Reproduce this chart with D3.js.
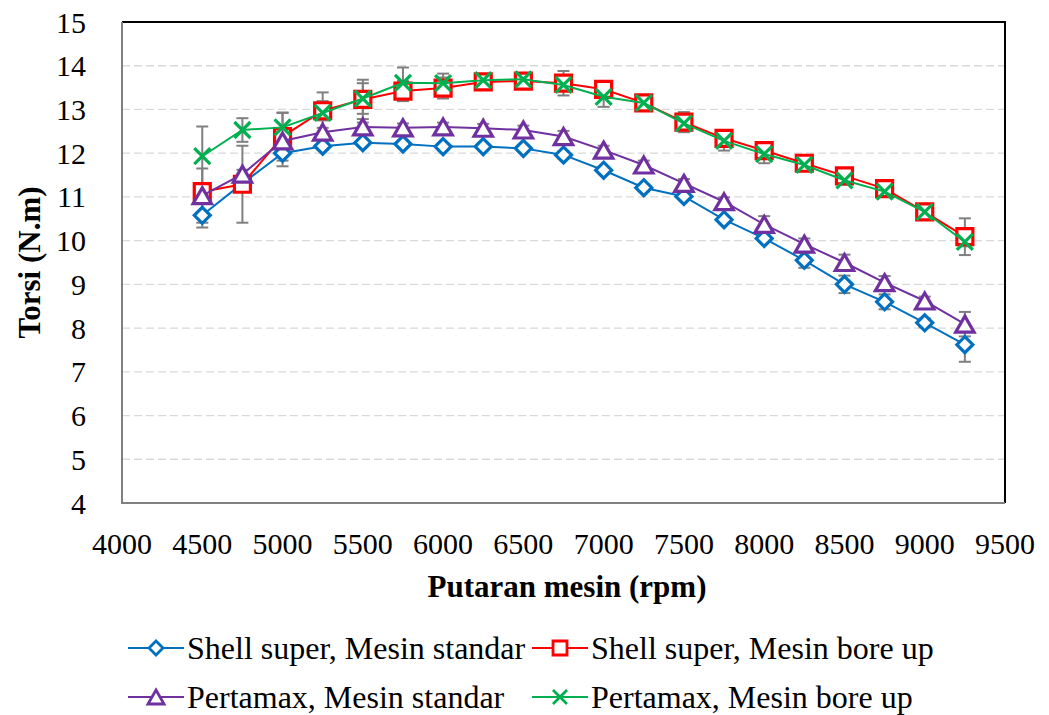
<!DOCTYPE html>
<meta charset="utf-8">
<style>
body { margin: 0; background: #fff; }
.grid line { stroke: #d9d9d9; stroke-width: 1.3px; stroke-dasharray: 8 4; }
.err { stroke: #7f7f7f; stroke-width: 2px; }
</style>
<svg width="1049" height="715"></svg>
<script src="https://d3js.org/d3.v7.min.js"></script>
<script>

const rpm = [4500, 4750, 5000, 5250, 5500, 5750, 6000, 6250, 6500, 6750,
             7000, 7250, 7500, 7750, 8000, 8250, 8500, 8750, 9000, 9250];

const shellStd = [10.58, 11.31, 12.00, 12.16, 12.24, 12.21, 12.15, 12.15, 12.11, 11.96,
                  11.61, 11.21, 11.01, 10.48, 10.05, 9.55, 9.00, 8.60, 8.12, 7.62];
const shellStdErr = [0.28, 0.08, 0.30, 0.08, 0.08, 0.08, 0.08, 0.08, 0.08, 0.08,
                     0.08, 0.08, 0.08, 0.08, 0.08, 0.17, 0.20, 0.17, 0.10, 0.39];

const shellBore = [11.12, 11.29, 12.38, 12.97, 13.23, 13.42, 13.49, 13.63, 13.65, 13.60,
                   13.46, 13.15, 12.71, 12.34, 12.06, 11.77, 11.48, 11.19, 10.66, 10.09];
const shellBoreErr = [0.10, 0.88, 0.55, 0.22, 0.45, 0.23, 0.24, 0.10, 0.10, 0.28,
                      0.10, 0.10, 0.23, 0.10, 0.10, 0.10, 0.10, 0.10, 0.10, 0.42];

const pertStd = [11.03, 11.52, 12.28, 12.48, 12.60, 12.58, 12.60, 12.57, 12.53, 12.38,
                 12.07, 11.73, 11.31, 10.89, 10.37, 9.92, 9.50, 9.04, 8.62, 8.09];
const pertStdErr = [0.62, 0.10, 0.10, 0.10, 0.10, 0.10, 0.10, 0.10, 0.10, 0.13,
                    0.10, 0.10, 0.10, 0.10, 0.19, 0.13, 0.18, 0.15, 0.10, 0.28];

const pertBore = [11.93, 12.53, 12.59, 12.92, 13.25, 13.61, 13.60, 13.67, 13.69, 13.56,
                  13.29, 13.15, 12.68, 12.28, 11.98, 11.73, 11.38, 11.12, 10.66, 9.97];
const pertBoreErr = [0.68, 0.27, 0.33, 0.47, 0.35, 0.35, 0.22, 0.10, 0.10, 0.10,
                     0.23, 0.10, 0.10, 0.22, 0.21, 0.10, 0.10, 0.10, 0.10, 0.10];

const xTicks = [4000, 4500, 5000, 5500, 6000, 6500, 7000, 7500, 8000, 8500, 9000, 9500];
const yTicks = [4, 5, 6, 7, 8, 9, 10, 11, 12, 13, 14, 15];

const series = [
  { name: 'Shell super, Mesin standar', values: shellStd, err: shellStdErr, color: '#0070C0', shape: 'diamond' },
  { name: 'Shell super, Mesin bore up', values: shellBore, err: shellBoreErr, color: '#FF0000', shape: 'square' },
  { name: 'Pertamax, Mesin standar', values: pertStd, err: pertStdErr, color: '#7030A0', shape: 'triangle' },
  { name: 'Pertamax, Mesin bore up', values: pertBore, err: pertBoreErr, color: '#00B050', shape: 'cross' }
];

const FONT = 'Liberation Serif';

const svg = d3.select('svg');
const pLeft = 122, pRight = 1005, pTop = 22, pBottom = 503;

const x = d3.scaleLinear().domain([4000, 9500]).range([pLeft, pRight]);
const y = d3.scaleLinear().domain([4, 15]).range([pBottom, pTop]);

// marker paths, centred on their bounding box
function shapePath(shape, h) {
  if (shape === 'diamond') return `M0,${-h}L${h},0L0,${h}L${-h},0Z`;
  if (shape === 'square') return `M${-h},${-h}H${h}V${h}H${-h}Z`;
  if (shape === 'triangle') return `M0,${-h}L${h * 1.15},${h}L${-h * 1.15},${h}Z`;
  return `M${-h},${-h}L${h},${h}M${-h},${h}L${h},${-h}`;
}

// grid
svg.append('g').attr('class', 'grid')
  .selectAll('line')
  .data(yTicks.filter(d => d > 4 && d < 15))
  .join('line')
    .attr('x1', pLeft).attr('x2', pRight)
    .attr('y1', d => y(d)).attr('y2', d => y(d));

// frame: top/right dark, left/bottom gray axes
svg.append('path')
  .attr('d', `M${pLeft},${pTop}H${pRight}V${pBottom}`)
  .attr('fill', 'none').attr('stroke', '#000').attr('stroke-width', 2);
svg.append('path')
  .attr('d', `M${pLeft},${pTop}V${pBottom}H${pRight}`)
  .attr('fill', 'none').attr('stroke', '#808080').attr('stroke-width', 2);

// tick labels
svg.append('g').selectAll('text')
  .data(yTicks)
  .join('text')
    .attr('font-family', FONT)
    .attr('font-size', 30)
    .attr('x', 86)
    .attr('y', d => y(d))
    .attr('dy', '0.35em')
    .attr('text-anchor', 'end')
    .text(d => d);

svg.append('g').selectAll('text')
  .data(xTicks)
  .join('text')
    .attr('font-family', FONT)
    .attr('font-size', 30)
    .attr('x', d => x(d))
    .attr('y', 543)
    .attr('dy', '0.35em')
    .attr('text-anchor', 'middle')
    .text(d => d);

// axis titles
svg.append('text')
  .attr('font-family', FONT)
  .attr('font-size', 31)
  .attr('font-weight', 'bold')
  .attr('transform', `translate(29,${(pTop + pBottom) / 2}) rotate(-90)`)
  .attr('text-anchor', 'middle')
  .attr('dy', '0.35em')
  .text('Torsi (N.m)');

svg.append('text')
  .attr('font-family', FONT)
  .attr('font-size', 31)
  .attr('font-weight', 'bold')
  .attr('x', 567)
  .attr('y', 586)
  .attr('dy', '0.35em')
  .attr('text-anchor', 'middle')
  .text('Putaran mesin (rpm)');

// error bars
series.forEach(s => {
  const g = svg.append('g').attr('class', 'err');
  rpm.forEach((r, i) => {
    const cx = x(r), y1 = y(s.values[i] + s.err[i]), y2 = y(s.values[i] - s.err[i]);
    g.append('line').attr('x1', cx).attr('x2', cx).attr('y1', y1).attr('y2', y2);
    g.append('line').attr('x1', cx - 6).attr('x2', cx + 6).attr('y1', y1).attr('y2', y1);
    g.append('line').attr('x1', cx - 6).attr('x2', cx + 6).attr('y1', y2).attr('y2', y2);
  });
});

const line = d3.line()
  .x((d, i) => x(rpm[i]))
  .y(d => y(d));

series.forEach(s => {
  svg.append('path')
    .datum(s.values)
    .attr('d', line)
    .attr('fill', 'none')
    .attr('stroke', s.color)
    .attr('stroke-width', 2);

  svg.append('g').selectAll('path')
    .data(s.values)
    .join('path')
      .attr('transform', (d, i) => `translate(${x(rpm[i])},${y(d)})`)
      .attr('d', shapePath(s.shape, 8))
      .attr('fill', s.shape === 'cross' ? 'none' : '#fff')
      .attr('stroke', s.color)
      .attr('stroke-width', 3.2);
});

// legend
const legendPos = [[128, 648], [532, 648], [128, 697], [532, 697]];
const legend = svg.append('g');
series.forEach((s, i) => {
  const [lx, ly] = legendPos[i];
  const g = legend.append('g').attr('transform', `translate(${lx},${ly})`);
  g.append('line').attr('x1', 0).attr('x2', 56).attr('y1', 0).attr('y2', 0)
    .attr('stroke', s.color).attr('stroke-width', 2);
  g.append('path')
    .attr('transform', 'translate(28,0)')
    .attr('d', shapePath(s.shape, 7))
    .attr('fill', s.shape === 'cross' ? 'none' : '#fff')
    .attr('stroke', s.color)
    .attr('stroke-width', 2.8);
  g.append('text')
    .attr('font-family', FONT)
    .attr('font-size', 32)
    .attr('x', 59)
    .attr('y', 0)
    .attr('dy', '0.35em')
    .text(s.name);
});

</script>
